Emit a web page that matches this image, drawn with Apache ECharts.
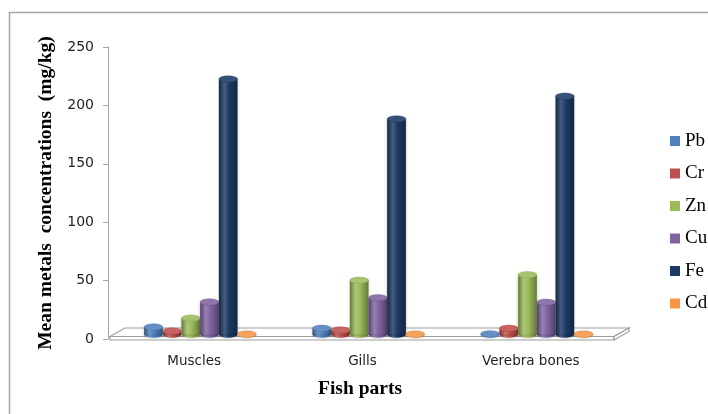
<!DOCTYPE html>
<html>
<head>
<meta charset="utf-8">
<script src="https://cdn.jsdelivr.net/npm/echarts@6/dist/echarts.min.js"></script>
<style>
  html, body { margin: 0; padding: 0; background: #fff; }
  #chart { width: 708px; height: 414px; }
</style>
</head>
<body>
<div id="chart"></div>
<script>
// Mean metal concentrations (mg/kg) by fish part
const categories = ['Muscles', 'Gills', 'Verebra bones'];
const metals = ['Pb', 'Cr', 'Zn', 'Cu', 'Fe', 'Cd'];
const pbValues = [6.4, 5.3, 0.5];
const crValues = [3.0, 3.9, 5.3];
const znValues = [14, 46.4, 51.2];
const cuValues = [27.8, 31.5, 27.6];
const feValues = [218.7, 184.5, 204];
const cdValues = [0.3, 0.3, 0.3];
const yTicks = { min: 0, max: 250, step: 50 };

const seriesValues = [pbValues, crValues, znValues, cuValues, feValues, cdValues];
const metalColors = ['#4f81bd', '#c0504d', '#9bbb59', '#8064a2', '#1c3a64', '#f79646'];

// layout of the plot area
const GRID_LEFT = 116, GRID_RIGHT_X = 621, GRID_TOP = 47, GRID_BOTTOM_Y = 339;
const W = 708, H = 414;

function mix(hex, target, t) {
  const a = echarts.color.parse(hex), b = echarts.color.parse(target);
  const c = [0, 1, 2].map(i => Math.round(a[i] + (b[i] - a[i]) * t));
  return 'rgb(' + c.join(',') + ')';
}

// cylinder drawn from the axis scales: body + bottom cap + top cap
function renderCylinder(params, api) {
  const cat = api.value(0), val = api.value(1);
  const top = api.coord([cat, val]);
  const base = api.coord([cat, 0]);
  const band = api.size([1, 0])[0];
  const slot = band * 0.111;
  const w = slot * 1.0;
  const s = params.seriesIndex;
  const cx = top[0] + (s - 2.5) * slot;
  const lift = 4.5;
  const yTop = top[1] - lift, yBase = base[1] - lift;
  const rx = w / 2, ry = 3.2;
  const color = api.visual('color');
  const dark = mix(color, '#000000', 0.35);
  const light = mix(color, '#ffffff', 0.18);
  const bodyFill = new echarts.graphic.LinearGradient(0, 0, 1, 0, [
    { offset: 0, color: dark },
    { offset: 0.3, color: light },
    { offset: 0.55, color: color },
    { offset: 1, color: dark }
  ]);
  const capFill = mix(color, '#ffffff', 0.12);
  return {
    type: 'group',
    children: [
      {
        type: 'circle',
        shape: { cx: 0, cy: 0, r: rx },
        x: cx, y: yBase, scaleY: ry / rx,
        style: { fill: bodyFill, shadowBlur: 3, shadowColor: 'rgba(0,0,0,0.25)' }
      },
      {
        type: 'rect',
        shape: { x: cx - rx, y: yTop, width: w, height: Math.max(0, yBase - yTop) },
        style: { fill: bodyFill, shadowBlur: 3, shadowColor: 'rgba(0,0,0,0.25)' }
      },
      {
        type: 'circle',
        shape: { cx: 0, cy: 0, r: rx },
        x: cx, y: yTop, scaleY: ry / rx,
        style: { fill: capFill, stroke: mix(color, '#000000', 0.15), lineWidth: 0.6 }
      }
    ]
  };
}

const chart = echarts.init(document.getElementById('chart'), null, { renderer: 'canvas' });

const floorL = GRID_LEFT - 6, floorR = GRID_RIGHT_X - 7, dx = 15, dy = 8.5;
const floorTop = GRID_BOTTOM_Y - 2.5, floorBottom = GRID_BOTTOM_Y + 1;
const floorStyle = { fill: '#ffffff', stroke: '#9f9f9f', lineWidth: 1.2 };

chart.setOption({
  backgroundColor: '#ffffff',
  animation: false,
  graphic: [
    {
      type: 'rect', z: 0,
      shape: { x: 9.5, y: 12.5, width: W + 20, height: H + 20 },
      style: { fill: 'none', stroke: '#a6a6a6', lineWidth: 1.5 }
    },
    {
      type: 'polygon', z: 1,
      shape: { points: [[floorL, floorTop], [floorL + dx, floorTop - dy], [floorR + dx, floorTop - dy], [floorR, floorTop]] },
      style: floorStyle
    },
    {
      type: 'polygon', z: 1,
      shape: { points: [[floorL, floorTop], [floorR, floorTop], [floorR, floorBottom], [floorL, floorBottom]] },
      style: floorStyle
    },
    {
      type: 'polygon', z: 1,
      shape: { points: [[floorR, floorTop], [floorR + dx, floorTop - dy], [floorR + dx, floorTop - dy + 3.5], [floorR, floorBottom]] },
      style: floorStyle
    }
  ],
  grid: {
    left: GRID_LEFT,
    right: W - GRID_RIGHT_X,
    top: GRID_TOP,
    bottom: H - GRID_BOTTOM_Y
  },
  legend: {
    orient: 'vertical',
    left: 665,
    top: 125,
    icon: 'rect',
    itemWidth: 10,
    itemHeight: 10,
    itemGap: 10.5,
    data: metals,
    textStyle: { fontFamily: 'Liberation Serif', fontSize: 19, color: '#000', lineHeight: 22 }
  },
  xAxis: {
    type: 'category',
    data: categories,
    boundaryGap: true,
    axisLine: { show: false },
    axisTick: { show: false },
    axisLabel: {
      margin: 15,
      fontFamily: 'DejaVu Sans',
      fontSize: 13.5,
      color: '#1f1f1f',
      padding: [0, 12, 0, 0]
    },
    name: 'Fish parts',
    nameLocation: 'middle',
    nameGap: 40,
    nameTextStyle: {
      fontFamily: 'Liberation Serif',
      fontWeight: 'bold',
      fontSize: 19.5,
      color: '#000',
      padding: [0, 17, 0, 0]
    }
  },
  yAxis: {
    type: 'value',
    min: yTicks.min,
    max: yTicks.max,
    interval: yTicks.step,
    offset: 8,
    axisLine: { show: true, lineStyle: { color: '#a6a6a6', width: 1 } },
    axisTick: { show: true, length: 5, lineStyle: { color: '#a6a6a6' } },
    splitLine: { show: false },
    axisLabel: {
      margin: 14,
      fontFamily: 'DejaVu Sans',
      fontSize: 14,
      color: '#1f1f1f'
    },
    name: 'Mean metals  concentrations  (mg/kg)',
    nameLocation: 'middle',
    nameGap: 51,
    nameTextStyle: {
      fontFamily: 'Liberation Serif',
      fontWeight: 'bold',
      fontSize: 19.5,
      color: '#000'
    }
  },
  series: metals.map((name, i) => ({
    name: name,
    type: 'custom',
    z: 5,
    itemStyle: { color: metalColors[i] },
    encode: { x: 0, y: 1 },
    renderItem: renderCylinder,
    data: seriesValues[i].map((v, j) => [j, v])
  }))
});
</script>
</body>
</html>
